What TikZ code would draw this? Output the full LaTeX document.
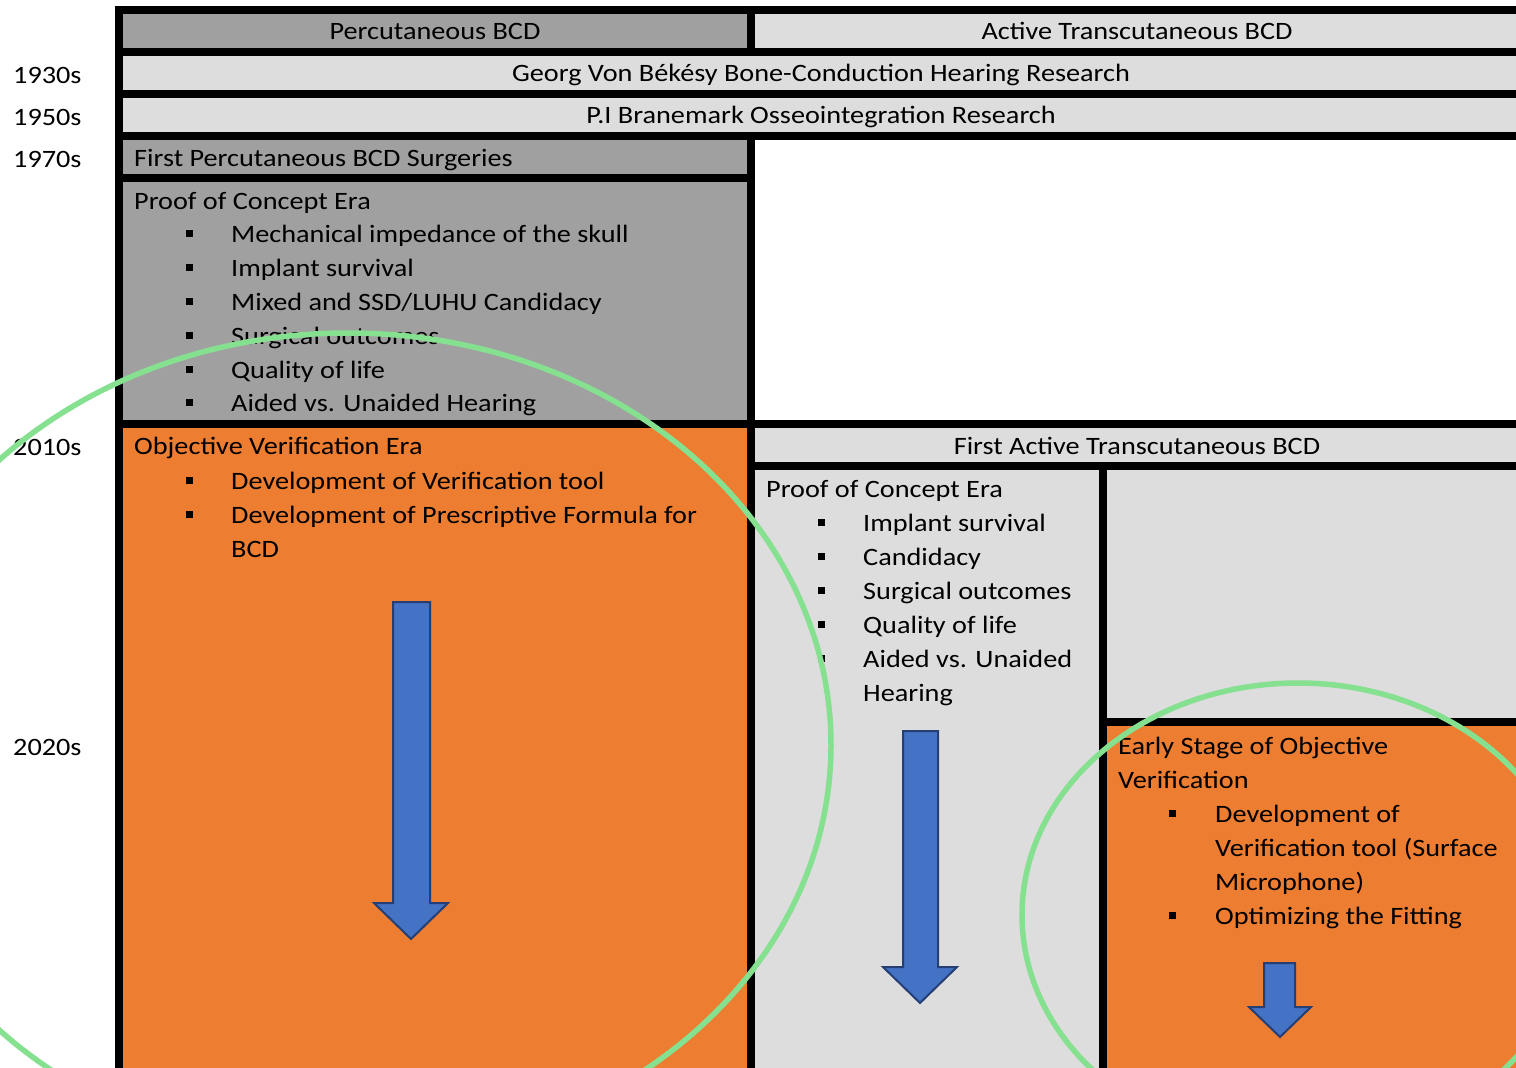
\documentclass[tikz,border=0pt]{standalone}
\usepackage{fontspec}
\setmainfont{Carlito}[FakeStretch=1.13]
\definecolor{dgray}{HTML}{A0A0A0}
\definecolor{lgray}{HTML}{DDDDDD}
\definecolor{orng}{HTML}{ED7D31}
\definecolor{blu}{HTML}{4472C4}
\definecolor{bluedge}{HTML}{253F75}
\definecolor{grn}{HTML}{85E08F}
\begin{document}
\begin{tikzpicture}[x=1pt,y=-1pt,
  txt/.style={inner sep=0pt, anchor=base west, font=\fontsize{25}{30}\selectfont},
  ctxt/.style={inner sep=0pt, anchor=base, font=\fontsize{25}{30}\selectfont},
  bul/.style={fill=black, minimum size=7pt, inner sep=0pt, draw=none},
  blockarrow/.style={fill=blu, draw=bluedge, line width=2pt, line join=miter},
  hl/.style={draw=grn, line width=5.5pt}]
\useasboundingbox (0,0) rectangle (1516,1068);
\begin{scope}
\clip (0,0) rectangle (1516,1068);
% frame and cells
\fill[black] (115,6) rectangle (1516,1068);
\fill[dgray] (123,14) rectangle (747,48);
\fill[lgray] (755,14) rectangle (1516,48);
\fill[lgray] (123,56) rectangle (1516,90);
\fill[lgray] (123,98) rectangle (1516,132);
\fill[dgray] (123,140) rectangle (747,174);
\fill[white] (755,140) rectangle (1516,420);
\fill[dgray] (123,182) rectangle (747,420);
\fill[orng] (123,428) rectangle (747,1068);
\fill[lgray] (755,428) rectangle (1516,462);
\fill[lgray] (755,470) rectangle (1099,1068);
\fill[lgray] (1107,470) rectangle (1516,718);
\fill[orng] (1107,726) rectangle (1516,1068);

% year labels
\node[txt] (y1930) at (13,83) {1930s};
\node[txt] (y1950) at (13,125) {1950s};
\node[txt] (y1970) at (13,167) {1970s};
\node[txt] (y2010) at (13,455) {2010s};
\node[txt] (y2020) at (13,755) {2020s};

% header texts
\node[ctxt] (hdrL) at (435,39) {Percutaneous BCD};
\node[ctxt] (hdrR) at (1137,39) {Active Transcutaneous BCD};
\node[ctxt] (bekesy) at (821,81) {Georg Von Békésy Bone-Conduction Hearing Research};
\node[ctxt] (brane) at (821,123) {P.I Branemark Osseointegration Research};
\node[txt] (firstperc) at (134,166) {First Percutaneous BCD Surgeries};

% left proof of concept
\node[txt] (pocL) at (134,209) {Proof of Concept Era};
\foreach \t [count=\i] in {Mechanical impedance of the skull, Implant survival, Mixed and SSD/LUHU Candidacy, Surgical outcomes, Quality of life, Aided vs. Unaided Hearing}{
  \pgfmathsetmacro{\yb}{209+33.8*\i}
  \node[txt] (pocLt\i) at (231,\yb) {\t};
  \node[bul] (pocLb\i) at (189,\yb-9) {};
}

% left orange
\node[txt] (ove) at (134,454) {Objective Verification Era};
\node[bul] (oveb1) at (189,480) {};
\node[txt] (ovet1) at (231,489) {Development of Verification tool};
\node[bul] (oveb2) at (189,514) {};
\node[txt] (ovet2) at (231,523) {Development of Prescriptive Formula for};
\node[txt] (ovet3) at (231,557) {BCD};

% right header
\node[ctxt] (fat) at (1137,454) {First Active Transcutaneous BCD};

% right proof of concept
\node[txt] (pocR) at (766,497) {Proof of Concept Era};
\foreach \t [count=\i] in {Implant survival, Candidacy, Surgical outcomes, Quality of life, Aided vs. Unaided}{
  \pgfmathsetmacro{\yb}{497+34*\i}
  \node[txt] (pocRt\i) at (863,\yb) {\t};
  \node[bul] (pocRb\i) at (821,\yb-9) {};
}
\node[txt] (pocRt6) at (863,701) {Hearing};

% right orange
\node[txt] (es1) at (1118,754) {Early Stage of Objective};
\node[txt] (es2) at (1118,788) {Verification};
\node[bul] (esb1) at (1172,813) {};
\node[txt] (est1) at (1215,822) {Development of};
\node[txt] (est2) at (1215,856) {Verification tool (Surface};
\node[txt] (est3) at (1215,890) {Microphone)};
\node[bul] (esb2) at (1172,915) {};
\node[txt] (est4) at (1215,924) {Optimizing the Fitting};

% block arrows
\draw[blockarrow] (393,602) -- (430,602) -- (430,903) -- (448,903) -- (411,939) -- (374,903) -- (393,903) -- cycle;
\draw[blockarrow] (903,731) -- (938,731) -- (938,967) -- (957,967) -- (920,1003) -- (883,967) -- (903,967) -- cycle;
\draw[blockarrow] (1264,963) -- (1295,963) -- (1295,1007) -- (1311,1007) -- (1280,1037) -- (1249,1007) -- (1264,1007) -- cycle;

% green highlight ellipses
\draw[hl] (348,745) ellipse [x radius=483pt, y radius=412pt];
\draw[hl] (1298,915) ellipse [x radius=276pt, y radius=232pt];
\end{scope}
\end{tikzpicture}
\end{document}
